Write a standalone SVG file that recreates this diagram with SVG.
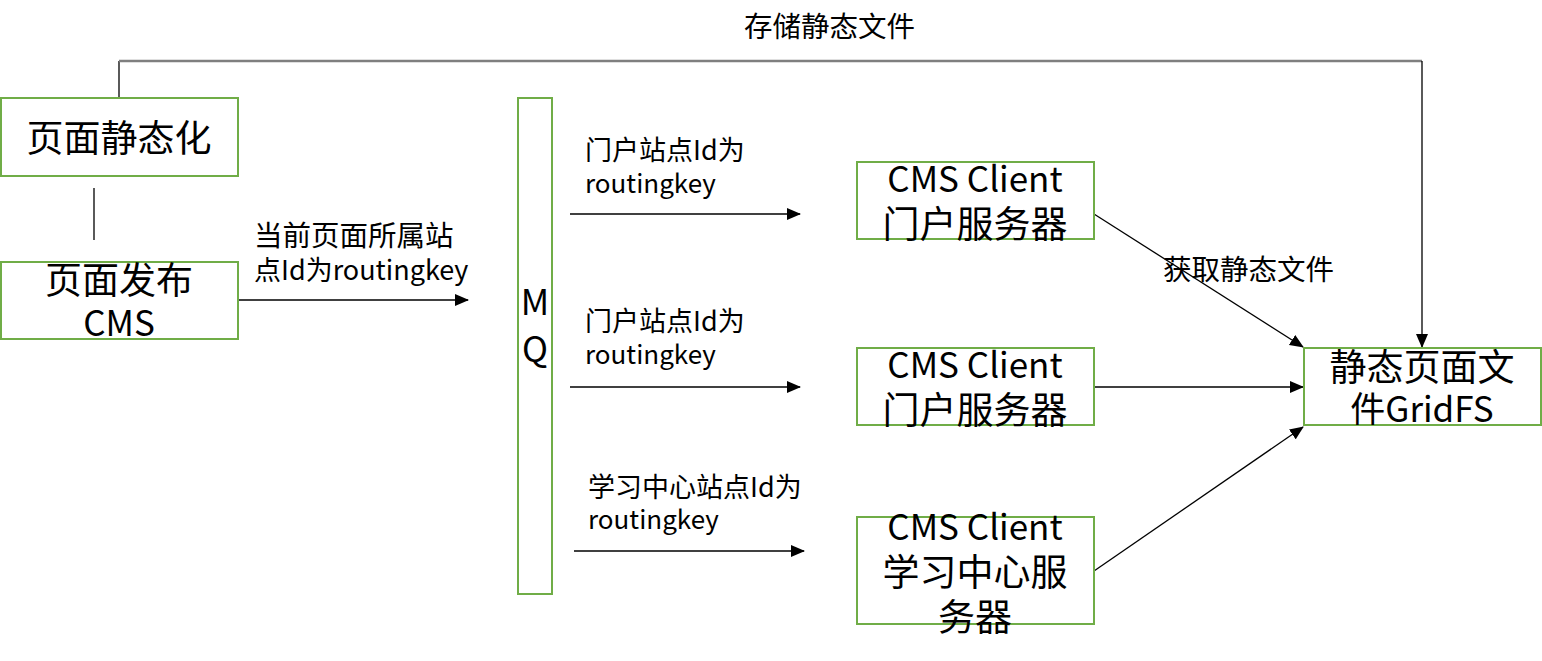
<svg xmlns="http://www.w3.org/2000/svg" width="1542" height="661" viewBox="0 0 1542 661">
<style>
.node{fill:#fff;stroke:#70AD47;stroke-width:2}
.nt{font-family:"Noto Sans CJK SC","Noto Sans",sans-serif;font-size:35px;fill:#000;text-anchor:middle}
.cj{font-size:37px}
.lt{font-family:"Noto Sans CJK SC","Noto Sans",sans-serif;font-size:26px;fill:#000}
.lc{font-size:28.5px}
.lm{font-size:27px}
.c{fill:none;stroke:#000;stroke-width:1.3}
</style>
<defs>
<marker id="ah" markerUnits="userSpaceOnUse" markerWidth="14" markerHeight="12" viewBox="0 0 14 12" refX="13" refY="6" orient="auto">
<path d="M0,0 L14,6 L0,12 Z" fill="#000"/>
</marker>
</defs>
<rect width="1542" height="661" fill="#fff"/>
<g id="connectors">
<path d="M119,98 V61" fill="none" stroke="#000" stroke-width="1.3"/>
<path d="M119,61 H1422" fill="none" stroke="#7F7F7F" stroke-width="2.5"/>
<path class="c" d="M1422,61 V347" marker-end="url(#ah)"/>
<path class="c" d="M94,188 V240"/>
<path class="c" d="M238,300 H468" marker-end="url(#ah)"/>
<path class="c" d="M570,214 H800" marker-end="url(#ah)"/>
<path class="c" d="M570,387 H800" marker-end="url(#ah)"/>
<path class="c" d="M574,551 H804" marker-end="url(#ah)"/>
<path class="c" d="M1094,214 L1303,347" marker-end="url(#ah)"/>
<path class="c" d="M1094,387 H1303" marker-end="url(#ah)"/>
<path class="c" d="M1094,571 L1303,427" marker-end="url(#ah)"/>
<text class="lt lc" x="744" y="37">存储静态文件</text>
<text class="lt lc" x="254" y="246">当前页面所属站</text>
<text class="lt lm" x="254" y="280">点Id为routingkey</text>
<text class="lt lm" x="585" y="160">门户站点Id为</text>
<text class="lt" x="585" y="193">routingkey</text>
<text class="lt lm" x="585" y="331">门户站点Id为</text>
<text class="lt" x="585" y="364">routingkey</text>
<text class="lt lm" x="588" y="497">学习中心站点Id为</text>
<text class="lt" x="588" y="529">routingkey</text>
<text class="lt lc" x="1163" y="280">获取静态文件</text>
</g>
<g id="node-static">
<rect class="node" x="1" y="98" width="237" height="78"/>
<text class="nt cj" x="119" y="152">页面静态化</text>
</g>
<g id="node-publish">
<rect class="node" x="1" y="262" width="237" height="77"/>
<text class="nt cj" x="119" y="294">页面发布</text>
<text class="nt" x="119" y="336">CMS</text>
</g>
<g id="node-mq">
<rect class="node" x="518" y="98" width="34" height="496"/>
<text class="nt" x="535" y="315">M</text>
<text class="nt" x="535" y="362">Q</text>
</g>
<g id="node-client1">
<rect class="node" x="857" y="162" width="237" height="77"/>
<text class="nt" x="975" y="192">CMS Client</text>
<text class="nt cj" x="975" y="238">门户服务器</text>
</g>
<g id="node-client2">
<rect class="node" x="857" y="348" width="237" height="77"/>
<text class="nt" x="975" y="378">CMS Client</text>
<text class="nt cj" x="975" y="424">门户服务器</text>
</g>
<g id="node-client3">
<rect class="node" x="857" y="517" width="237" height="107"/>
<text class="nt" x="975" y="540">CMS Client</text>
<text class="nt cj" x="975" y="586">学习中心服</text>
<text class="nt cj" x="975" y="631">务器</text>
</g>
<g id="node-gridfs">
<rect class="node" x="1304" y="348" width="237" height="77"/>
<text class="nt cj" x="1422" y="381">静态页面文</text>
<text class="nt" x="1422" y="422">件GridFS</text>
</g>
</svg>
